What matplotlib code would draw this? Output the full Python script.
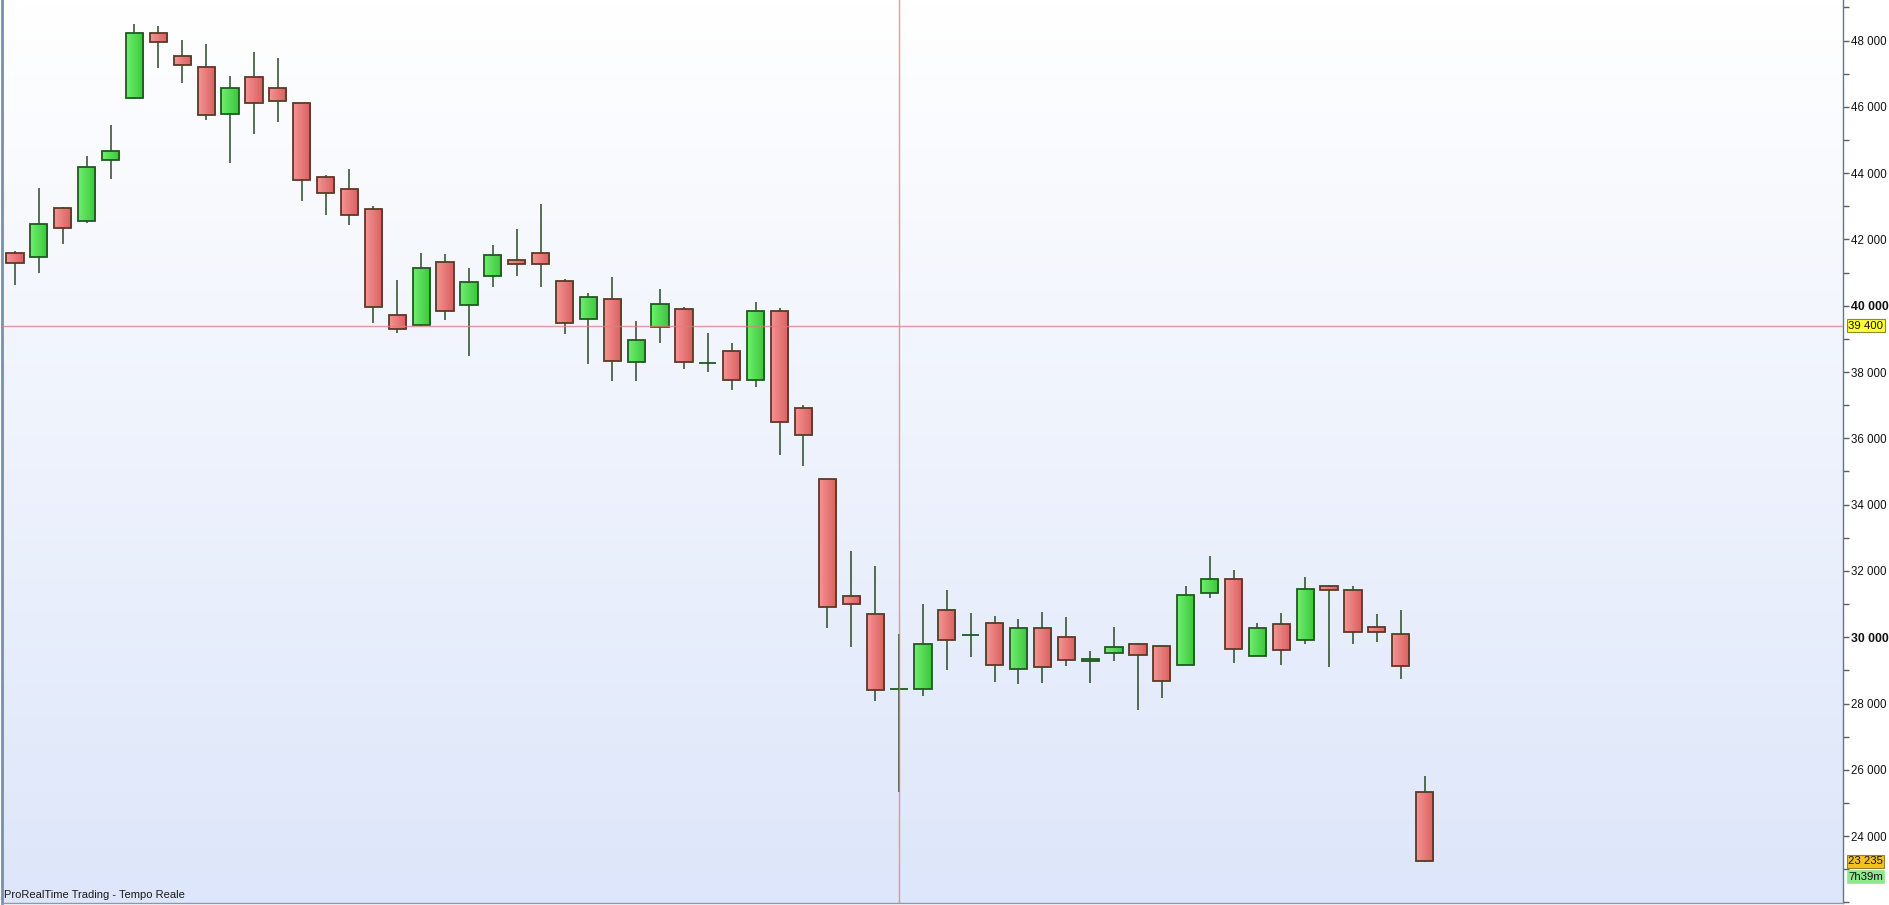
import numpy as np
import matplotlib
matplotlib.use("Agg")
import matplotlib.pyplot as plt
from matplotlib.ticker import MultipleLocator
from matplotlib.transforms import blended_transform_factory
from matplotlib.colors import LinearSegmentedColormap

plt.rcParams['font.family'] = ['Liberation Sans', 'DejaVu Sans']

# ---- data (OHLC) ----
opens = [41580, 41460, 42940, 42545, 44385, 46255, 48215, 47525, 47190, 45775,
         46890, 46560, 46105, 43875, 43510, 42910, 39710, 39410, 41310, 40010,
         40885, 41370, 41580, 40735, 39590, 40195, 38295, 39350, 39890, 38260,
         38625, 37750, 39830, 36905, 34765, 31235, 30690, 28450, 28430, 30810,
         30070, 30420, 29030, 30270, 30000, 29275, 29515, 29785, 29725, 29150,
         31325, 31745, 29440, 30390, 29905, 31535, 31415, 30300, 30085, 25320]
highs = [41650, 43550, 42980, 44515, 45450, 48500, 48440, 48015, 47895, 46930,
         47655, 47470, 46110, 43945, 44125, 43000, 40775, 41590, 41560, 41135,
         41830, 42315, 43070, 40805, 40385, 40865, 39540, 40505, 39950, 39165,
         38865, 40100, 39920, 36995, 34770, 32600, 32150, 30100, 31000, 31425,
         30730, 30640, 30550, 30760, 30610, 29575, 30310, 29815, 29730, 31545,
         32450, 32025, 30430, 30730, 31815, 31575, 31545, 30700, 30820, 25815]
lows = [40630, 41000, 41870, 42500, 43830, 46240, 47180, 46730, 45610, 44315,
        45190, 45550, 43165, 42745, 42445, 39490, 39185, 39400, 39580, 38490,
        40575, 40905, 40575, 39155, 38250, 37735, 37735, 38885, 38100, 38010,
        37450, 37540, 35505, 35175, 30290, 29695, 28085, 25340, 28235, 29020,
        29410, 28655, 28595, 28625, 29140, 28625, 29290, 27815, 28175, 29150,
        31190, 29230, 29440, 29170, 29805, 29110, 29805, 29865, 28750, 23210]
closes = [41280, 42455, 42330, 44175, 44655, 48215, 47945, 47250, 45745, 46560,
          46105, 46165, 43785, 43390, 42725, 39950, 39290, 41130, 39830, 40705,
          41520, 41250, 41250, 39470, 40255, 38325, 38955, 40040, 38295, 38260,
          37750, 39830, 36485, 36090, 30900, 30995, 28400, 28450, 29785, 29905,
          30070, 29150, 30270, 29090, 29305, 29335, 29695, 29455, 28670, 31265,
          31745, 29635, 30270, 29605, 31445, 31415, 30150, 30150, 29120, 23235]

price_ticks = [24000, 26000, 28000, 30000, 32000, 34000, 36000, 38000,
               40000, 42000, 44000, 46000, 48000]
tick_labels = ["24 000", "26 000", "28 000", "30 000", "32 000", "34 000", "36 000",
               "38 000", "40 000", "42 000", "44 000", "46 000", "48 000"]
bold_ticks = [30000, 40000]
crosshair_price = 39400
crosshair_label = "39 400"
crosshair_index = 37
last_price = 23235
last_price_label = "23 235"
timer_label = "7h39m"
footer = "ProRealTime Trading - Tempo Reale"

# ---- figure ----
W, H = 1890, 905
fig = plt.figure(figsize=(W / 100, H / 100), dpi=100)
fig.patch.set_facecolor('white')
ax = fig.add_axes([2 / W, 2 / H, 1841 / W, 903 / H])

x0, x1 = -0.544, 76.51
y0, y1 = 21982, 49222

# background gradient
bg = LinearSegmentedColormap.from_list('bg', ['#dde6fa', '#ffffff'])
grad = np.linspace(0, 1, 256).reshape(-1, 1)
ax.imshow(grad, extent=[x0, x1, y0, y1], origin='lower', cmap=bg,
          aspect='auto', zorder=0, interpolation='bicubic')

idx = np.arange(len(opens))
o = np.array(opens, dtype=float)
c = np.array(closes, dtype=float)
h = np.array(highs, dtype=float)
l = np.array(lows, dtype=float)
up = c > o
doji = c == o

# wicks
ax.vlines(idx, l, h, color='#2a4a26', lw=1.1, zorder=1.5)

# bodies
bottoms = np.minimum(o, c)
heights = np.abs(c - o)
edgecols = ['#1f5a1f' if (u or d) else '#5a3a26' for u, d in zip(up, doji)]
bars = ax.bar(idx, heights, bottom=bottoms, width=0.72, facecolor='none',
              edgecolor=edgecols, linewidth=1.3, zorder=3)

green_cm = LinearSegmentedColormap.from_list('g', ['#6ef06e', '#3cc43c'])
red_cm = LinearSegmentedColormap.from_list('r', ['#f59494', '#d95f5f'])
hgrad = np.linspace(0, 1, 64).reshape(1, -1)
for i, p in enumerate(bars.patches):
    if doji[i]:
        continue
    cm = green_cm if up[i] else red_cm
    bx = p.get_x()
    im = ax.imshow(hgrad, extent=[bx, bx + p.get_width(), bottoms[i], bottoms[i] + heights[i]],
                   cmap=cm, aspect='auto', zorder=2, interpolation='bilinear')
    im.set_clip_path(p)

# crosshair
ax.axhline(crosshair_price, color='#e07a80', lw=1, alpha=0.75, zorder=4)
ax.axvline(crosshair_index, color='#e07a80', lw=1, alpha=0.75, zorder=4)

ax.set_xlim(x0, x1)
ax.set_ylim(y0, y1)

# axes styling
ax.set_xticks([])
ax.yaxis.tick_right()
ax.set_yticks(price_ticks)
ax.set_yticklabels(tick_labels)
ax.yaxis.set_minor_locator(MultipleLocator(1000))
ax.tick_params(axis='y', which='major', direction='out', length=4, width=1,
               color='#55606a', pad=2, labelsize=8.3, labelcolor='#111111')
ax.tick_params(axis='y', which='minor', direction='out', length=4, width=1,
               color='#55606a')
for t, lab in zip(price_ticks, ax.get_yticklabels()):
    if t in bold_ticks:
        lab.set_fontweight('bold')
        lab.set_fontsize(8.8)

ax.spines['top'].set_visible(False)
ax.spines['right'].set_color('#66768a')
ax.spines['right'].set_linewidth(1)
ax.spines['left'].set_color('#7890a8')
ax.spines['left'].set_linewidth(2)
ax.spines['bottom'].set_color('#8a9aaa')
ax.spines['bottom'].set_linewidth(1)

tr = blended_transform_factory(ax.transAxes, ax.transData)
lab_x = 1.0028
ax.text(lab_x, crosshair_price, crosshair_label, transform=tr, ha='left', va='center',
        fontsize=8.2, color='#111111', clip_on=False, zorder=6,
        bbox=dict(boxstyle='square,pad=0.12', fc='#ffff33', ec='#8a8a30', lw=0.8))
ax.annotate(last_price_label, xy=(lab_x, last_price), xycoords=tr,
            xytext=(0, 0), textcoords='offset points', ha='left', va='center',
            fontsize=8.2, color='#111111', annotation_clip=False, zorder=6,
            bbox=dict(boxstyle='square,pad=0.12', fc='#f2c21e', ec='#9a8030', lw=0.8))
ax.annotate(timer_label, xy=(lab_x, last_price), xycoords=tr,
            xytext=(0, -11), textcoords='offset points', ha='left', va='center',
            fontsize=8.2, color='#111111', annotation_clip=False, zorder=6,
            bbox=dict(boxstyle='square,pad=0.12', fc='#8ee88e', ec='#8ee88e', lw=0.5))

fig.text(4 / W, 5 / H, footer, ha='left', va='bottom', fontsize=8, color='#1a1a1a')

fig.savefig('out.png', dpi=100, facecolor=fig.get_facecolor())
